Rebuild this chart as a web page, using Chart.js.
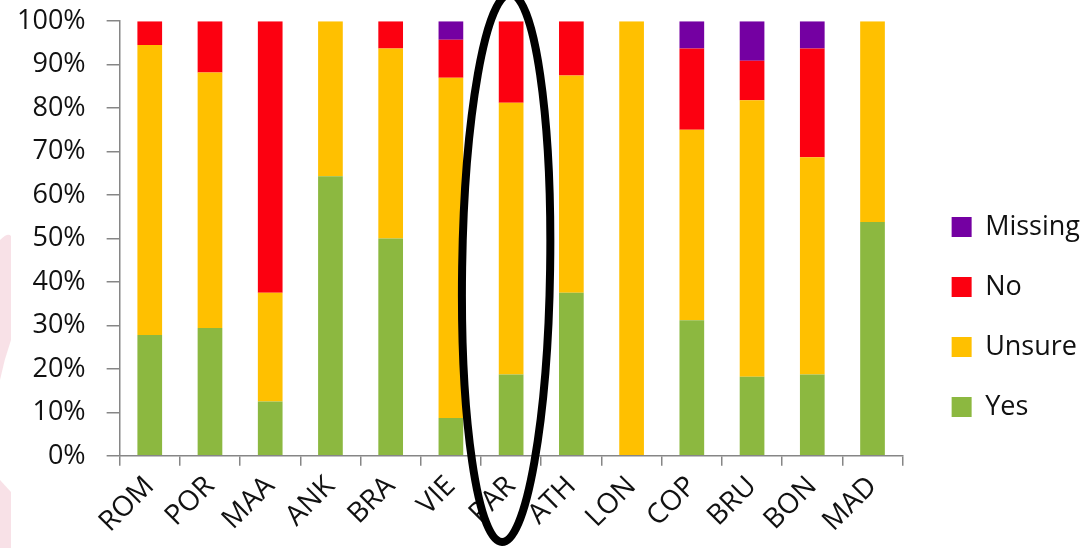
<!DOCTYPE html>
<html>
<head>
<meta charset="utf-8">
<script src="https://cdn.jsdelivr.net/npm/chart.js@4"></script>
<style>
    html, body { margin: 0; padding: 0; background: #fff; }
    #wrap { width: 1090px; height: 548px; position: relative; }
</style>
</head>
<body>
<div id="wrap"><canvas id="chart"></canvas></div>
<script>
// Cities (categories)
const cities = ['ROM', 'POR', 'MAA', 'ANK', 'BRA', 'VIE', 'PAR', 'ATH', 'LON', 'COP', 'BRU', 'BON', 'MAD'];

// Answer shares, in percent
const yes     = [27.8, 29.4, 12.5, 64.3, 50.0,  8.7, 18.7, 37.5,   0, 31.2, 18.2, 18.7, 53.8];
const unsure  = [66.7, 58.8, 25.0, 35.7, 43.7, 78.3, 62.5, 50.0, 100, 43.8, 63.6, 50.0, 46.2];
const no      = [ 5.5, 11.8, 62.5,    0,  6.3,  8.7, 18.8, 12.5,   0, 18.7,  9.1, 25.0,    0];
const missing = [   0,    0,    0,    0,    0,  4.3,    0,    0,   0,  6.3,  9.1,  6.3,    0];

// Y axis ticks
const yTicks = [0, 10, 20, 30, 40, 50, 60, 70, 80, 90, 100];

const highlighted = 'PAR';
const axisGray = '#868686';
const font = "'Open Sans', 'Noto Sans', sans-serif";

// faint pink shape at the left edge of the picture
const backdrop = {
    id: 'backdrop',
    beforeDraw(chart) {
        const ctx = chart.ctx;
        ctx.save();
        ctx.fillStyle = 'rgba(236, 170, 185, 0.35)';
        ctx.beginPath();
        ctx.moveTo(0, 240);
        ctx.quadraticCurveTo(8, 232, 11, 236);
        ctx.lineTo(11, 340);
        ctx.quadraticCurveTo(4, 360, 0, 380);
        ctx.closePath();
        ctx.fill();
        ctx.beginPath();
        ctx.moveTo(0, 480);
        ctx.lineTo(11, 492);
        ctx.lineTo(11, 548);
        ctx.lineTo(0, 548);
        ctx.closePath();
        ctx.fill();
        ctx.restore();
    }
};

// black ring drawn round the highlighted city
const ring = {
    id: 'ring',
    afterDraw(chart) {
        const x = chart.scales.x.getPixelForValue(cities.indexOf(highlighted));
        const ctx = chart.ctx;
        ctx.save();
        ctx.strokeStyle = '#000';
        ctx.lineWidth = 8;
        ctx.beginPath();
        ctx.ellipse(x - 5, 268, 44, 274, 0.015, 0, Math.PI * 2);
        ctx.stroke();
        ctx.restore();
    }
};

new Chart(document.getElementById('chart'), {
    type: 'bar',
    data: {
        labels: cities,
        datasets: [
            { label: 'Yes', data: yes, backgroundColor: '#8CB840' },
            { label: 'Unsure', data: unsure, backgroundColor: '#FFC000' },
            { label: 'No', data: no, backgroundColor: '#FC0010' },
            { label: 'Missing', data: missing, backgroundColor: '#7400A2' }
        ]
    },
    options: {
        responsive: true,
        maintainAspectRatio: false,
        animation: false,
        layout: { padding: { top: 0, left: -4, right: 0, bottom: 5 } },
        datasets: {
            bar: { barPercentage: 0.41, categoryPercentage: 1 }
        },
        scales: {
            x: {
                stacked: true,
                grid: {
                    offset: true,
                    drawOnChartArea: false,
                    drawTicks: true,
                    tickLength: 10,
                    color: axisGray,
                    lineWidth: 1.5
                },
                border: { color: axisGray, width: 1.5 },
                ticks: {
                    minRotation: 45,
                    maxRotation: 45,
                    padding: 4,
                    color: '#111',
                    font: { family: font, size: 28 }
                }
            },
            y: {
                stacked: true,
                min: 0,
                max: 100,
                afterBuildTicks: axis => { axis.ticks = yTicks.map(v => ({ value: v })); },
                grid: {
                    drawOnChartArea: false,
                    drawTicks: true,
                    tickLength: 13,
                    color: axisGray,
                    lineWidth: 1.5
                },
                border: { color: axisGray, width: 1.5 },
                ticks: {
                    padding: 21,
                    color: '#111',
                    font: { family: font, size: 27, lineHeight: 0.01 },
                    callback: value => value + '%'
                }
            },
            // empty axis that only keeps a gap between the bars and the legend
            gap: {
                type: 'linear',
                position: 'right',
                display: true,
                grid: { display: false },
                border: { display: false },
                ticks: { display: false },
                afterFit: axis => { axis.width = 16; }
            }
        },
        plugins: {
            tooltip: { enabled: false },
            legend: {
                position: 'right',
                reverse: true,
                title: {
                    display: true,
                    text: ' ',
                    font: { size: 1 },
                    padding: { top: 90, bottom: 0 }
                },
                labels: {
                    boxWidth: 20,
                    boxHeight: 20,
                    padding: 33,
                    color: '#111',
                    font: { family: font, size: 27 }
                }
            }
        }
    },
    plugins: [backdrop, ring]
});
</script>
</body>
</html>
